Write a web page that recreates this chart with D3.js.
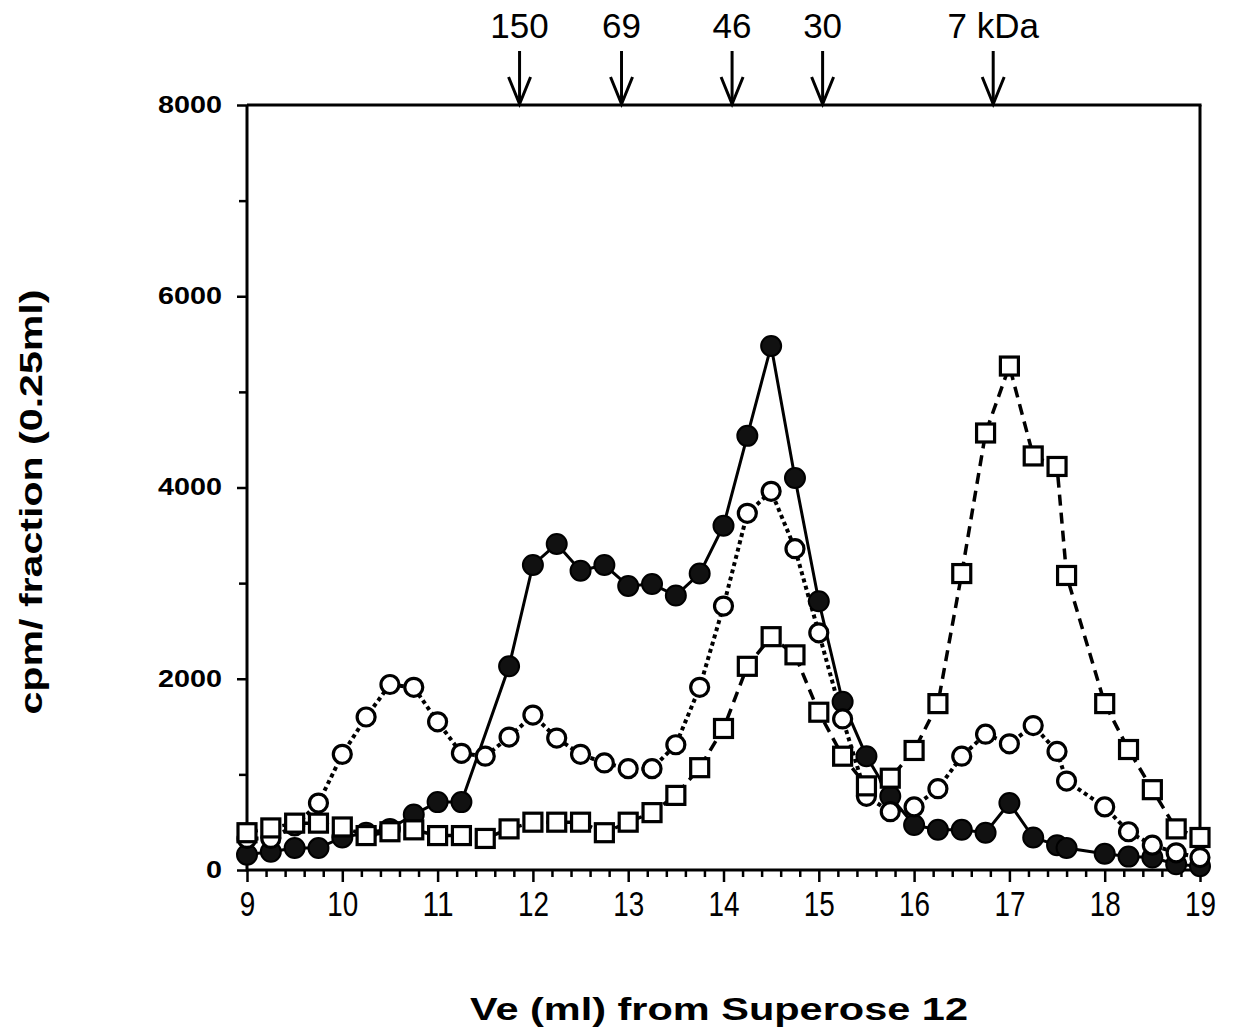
<!DOCTYPE html>
<html><head><meta charset="utf-8">
<script src="https://cdn.jsdelivr.net/npm/d3@7"></script>
<style>body{margin:0;background:#fff} svg{display:block}</style>
</head><body><svg id="c" width="1233" height="1034"></svg>
<script>
// Elution volume of each fraction (ml)
const ve = [9,9.25,9.5,9.75,10,10.25,10.5,10.75,11,11.25,11.5,11.75,12,12.25,12.5,12.75,13,13.25,13.5,13.75,14,14.25,14.5,14.75,15,15.25,15.5,15.75,16,16.25,16.5,16.75,17,17.25,17.5,17.6,18,18.25,18.5,18.75,19];
// cpm / fraction, filled circles (solid line)
const filledCircles = [160,190,230,230,340,390,430,580,710,710,null,2130,3190,3410,3130,3190,2970,2990,2870,3100,3600,4540,5480,4100,2810,1760,1190,770,470,420,420,390,700,340,260,230,170,140,130,60,40];
// open circles (dotted line)
const openCircles = [330,330,460,700,1210,1600,1940,1910,1550,1220,1190,1390,1620,1380,1210,1120,1060,1060,1310,1910,2760,3730,3960,3360,2480,1580,770,610,660,850,1190,1420,1320,1510,1240,930,660,400,260,180,130];
// open squares (dashed line)
const openSquares = [390,440,490,490,450,360,400,420,360,360,330,430,500,500,500,390,500,600,780,1070,1480,2130,2440,2250,1650,1190,880,960,1250,1740,3100,4570,5270,4330,4220,3080,1740,1260,840,430,340];
// axis ticks
const xTicks = [9,10,11,12,13,14,15,16,17,18,19];
const yTicks = [0,2000,4000,6000,8000];
const yMinorTicks = [1000,3000,5000,7000];
// molecular weight markers
const markerVe = [11.86,12.93,14.09,15.04,16.83];
const markerLabels = ["150","69","46","30","7 kDa"];

const svg = d3.select("#c");
const L = 247, R = 1200, T = 105, B = 870;
const x = d3.scaleLinear().domain([9,19]).range([L,R]);
const y = d3.scaleLinear().domain([0,8000]).range([B,T]);

const xMinor = d3.range(9,19.001,0.2).map(v=>+v.toFixed(1)).filter(v=>Math.abs(v-Math.round(v))>1e-6);

// x axis
const gx = svg.append("g").attr("transform",`translate(0,${B})`);
gx.call(d3.axisBottom(x).tickValues(xTicks).tickSize(12).tickPadding(9).tickFormat(d3.format("d")));
gx.select(".domain").remove();
gx.selectAll(".tick line").attr("stroke","#000").attr("stroke-width",2.5);
gx.selectAll(".tick text").attr("font-family","'Liberation Sans Narrow','Liberation Sans',Arial,sans-serif")
  .attr("font-size",35).attr("fill","#000")
  .attr("textLength",d=>String(d).length*15.5).attr("lengthAdjust","spacingAndGlyphs");
const gxm = svg.append("g").attr("transform",`translate(0,${B})`);
gxm.call(d3.axisBottom(x).tickValues(xMinor).tickSize(7).tickFormat(""));
gxm.select(".domain").remove();
gxm.selectAll(".tick line").attr("stroke","#000").attr("stroke-width",2.5);

// y axis
const gy = svg.append("g").attr("transform",`translate(${L},0)`);
gy.call(d3.axisLeft(y).tickValues(yTicks).tickSize(10).tickPadding(15).tickFormat(d3.format("d")));
gy.select(".domain").remove();
gy.selectAll(".tick line").attr("stroke","#000").attr("stroke-width",2.5);
gy.selectAll(".tick text").attr("font-family","'Liberation Sans',Arial,sans-serif")
  .attr("font-weight","bold").attr("font-size",23).attr("fill","#000")
  .attr("textLength",d=>String(d).length*16).attr("lengthAdjust","spacingAndGlyphs");
const gym = svg.append("g").attr("transform",`translate(${L},0)`);
gym.call(d3.axisLeft(y).tickValues(yMinorTicks).tickSize(8).tickFormat(""));
gym.select(".domain").remove();
gym.selectAll(".tick line").attr("stroke","#000").attr("stroke-width",2.5);

// frame
const frame = svg.append("g").attr("stroke","#000").attr("stroke-width",3).attr("fill","none");
frame.append("line").attr("x1",L).attr("x2",R+1.5).attr("y1",B).attr("y2",B);
frame.append("line").attr("x1",L).attr("x2",L).attr("y1",T).attr("y2",B+1.5);
frame.append("line").attr("x1",L).attr("x2",R+1.5).attr("y1",T).attr("y2",T);
frame.append("line").attr("x1",R).attr("x2",R).attr("y1",T).attr("y2",B);

// markers arrows
const arrows = svg.append("g");
markerVe.forEach((v,i)=>{
  const ax = x(v);
  arrows.append("line").attr("x1",ax).attr("x2",ax).attr("y1",T-54).attr("y2",T-1)
    .attr("stroke","#000").attr("stroke-width",3);
  arrows.append("path").attr("d",`M${ax-11},${T-28}L${ax},${T-1}L${ax+11},${T-28}`)
    .attr("stroke","#000").attr("stroke-width",3).attr("fill","none");
  arrows.append("text").attr("x",ax).attr("y",38).attr("text-anchor","middle")
    .attr("font-family","'Liberation Sans',Arial,sans-serif").attr("font-size",35)
    .attr("fill","#000").text(markerLabels[i]);
});

// series
const mk = arr => ve.map((v,i)=>({v, c: arr[i]})).filter(d=>d.c!==null);
const dFilled = mk(filledCircles), dOpen = mk(openCircles), dSq = mk(openSquares);
const line = d3.line().x(d=>x(d.v)).y(d=>y(d.c));

svg.append("path").datum(dFilled).attr("d",line).attr("fill","none")
  .attr("stroke","#000").attr("stroke-width",3);
svg.append("path").datum(dOpen).attr("d",line).attr("fill","none")
  .attr("stroke","#000").attr("stroke-width",4).attr("stroke-dasharray","4,3.5");
svg.append("path").datum(dSq).attr("d",line).attr("fill","none")
  .attr("stroke","#000").attr("stroke-width",3.5).attr("stroke-dasharray","11,7");

svg.append("g").selectAll("circle").data(dFilled).join("circle")
  .attr("cx",d=>x(d.v)).attr("cy",d=>y(d.c)).attr("r",10)
  .attr("fill","#111").attr("stroke","#000").attr("stroke-width",2);
svg.append("g").selectAll("circle").data(dOpen).join("circle")
  .attr("cx",d=>x(d.v)).attr("cy",d=>y(d.c)).attr("r",9)
  .attr("fill","#fff").attr("stroke","#000").attr("stroke-width",3.2);
const s = 18;
svg.append("g").selectAll("rect").data(dSq).join("rect")
  .attr("x",d=>x(d.v)-s/2).attr("y",d=>y(d.c)-s/2).attr("width",s).attr("height",s)
  .attr("fill","#fff").attr("stroke","#000").attr("stroke-width",3.2);

// titles
svg.append("text").attr("x",719).attr("y",1020).attr("text-anchor","middle")
  .attr("font-family","'Liberation Sans',Arial,sans-serif").attr("font-weight","bold")
  .attr("font-size",32).attr("textLength",498).attr("lengthAdjust","spacingAndGlyphs")
  .attr("fill","#000").text("Ve (ml)  from  Superose  12");
svg.append("text").attr("transform","translate(42,502) rotate(-90)").attr("text-anchor","middle")
  .attr("font-family","'Liberation Sans',Arial,sans-serif").attr("font-weight","bold")
  .attr("font-size",31).attr("textLength",425).attr("lengthAdjust","spacingAndGlyphs")
  .attr("fill","#000").text("cpm/  fraction  (0.25ml)");
</script></body></html>
